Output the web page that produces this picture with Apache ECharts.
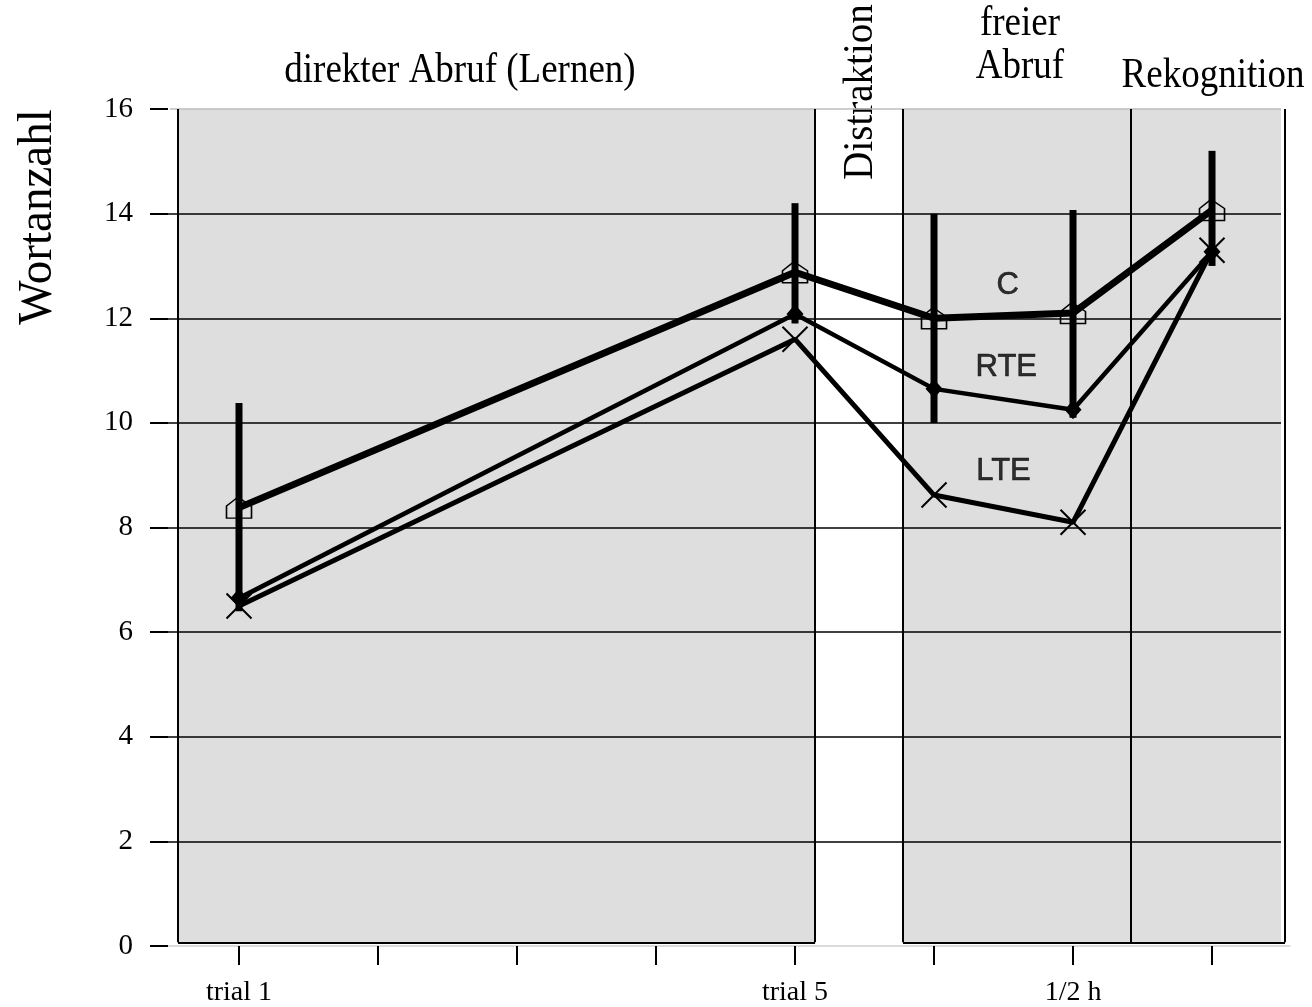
<!DOCTYPE html>
<html><head><meta charset="utf-8">
<script src="https://cdn.jsdelivr.net/npm/echarts@6/dist/echarts.min.js"></script>
<style>html,body{margin:0;padding:0;background:#fff}#c{width:1312px;height:1007px}</style>
</head><body><div id="c"></div>
<script>
// ---- data ----
const xPositions = [1, 5, 6, 7, 8];
const seriesC   = [8.38, 12.88, 12.0, 12.1, 14.07];
const seriesRTE = [6.65, 12.08, 10.65, 10.25, 13.27];
const seriesLTE = [6.5, 11.6, 8.62, 8.1, 13.3];
const errLow  = [6.4, 11.9, 10.0, 10.1, 13.0];
const errHigh = [10.38, 14.2, 14.0, 14.07, 15.2];
const tickPositions = [1, 2, 3, 4, 5, 6, 7, 8];
const xLabelPositions = [1, 5, 7];
const xLabelTexts = ['trial 1', 'trial 5', '1/2 h'];
const yGridValues = [2, 4, 6, 8, 10, 12, 14];
const groupNames = ['C', 'RTE', 'LTE'];
const groupNameX = [6.53, 6.52, 6.5];
const groupNameY = [12.63, 11.06, 9.08];

// ---- layout (data-coordinates of panel decorations) ----
const X_MIN = 0.4892, X_MAX = 8.561;
const GRID_END = 8.496;
const Y_BOTTOM = 0.07, Y_TOP = 16;
const panels = [[0.561, 5.144], [5.777, 7.417], [7.417, 8.496]];
const borderXs = [0.561, 5.144, 5.777, 7.417, 8.525];

const serif = "'Liberation Serif','Times New Roman',serif";
const chart = echarts.init(document.getElementById('c'), null, {renderer: 'canvas'});

const pair = (xs, ys) => xs.map((x, i) => [x, ys[i]]);

const borderLines = borderXs.map(x => [{coord: [x, Y_BOTTOM]}, {coord: [x, Y_TOP]}]);
borderLines.push([{coord: [panels[0][0], Y_BOTTOM]}, {coord: [panels[0][1], Y_BOTTOM]}]);
borderLines.push([{coord: [panels[1][0], Y_BOTTOM]}, {coord: [borderXs[4], Y_BOTTOM]}]);

const gridLines = yGridValues.map(v => [{coord: [X_MIN, v]}, {coord: [GRID_END, v]}]);

const T = (text, x, y, size, rot, sy) => ({
  type: 'text', x: x, y: y, rotation: rot || 0, scaleX: 1, scaleY: sy || 1,
  style: {text: text, x: 0, y: 0, font: `${size}px ${serif}`, fill: '#000', textAlign: 'center', textVerticalAlign: 'middle'}
});

const option = {
  animation: false,
  backgroundColor: '#fff',
  grid: {left: 168, right: 22, top: 109, bottom: 60},
  xAxis: {
    type: 'value', min: X_MIN, max: X_MAX,
    axisLine: {show: true, lineStyle: {color: '#cfcfcf', width: 1.5}},
    axisTick: {show: true, customValues: tickPositions, length: 19, lineStyle: {color: '#000', width: 2}},
    axisLabel: {
      customValues: xLabelPositions, margin: 33,
      fontFamily: serif, fontSize: 28, color: '#000',
      formatter: v => { const i = xLabelPositions.indexOf(Math.round(v)); return i >= 0 ? xLabelTexts[i] : ''; }
    },
    splitLine: {show: false}
  },
  yAxis: {
    type: 'value', min: 0, max: 16, interval: 2,
    axisLine: {show: false},
    axisTick: {show: true, length: 18, lineStyle: {color: '#000', width: 2}},
    axisLabel: {fontFamily: serif, fontSize: 29, color: '#000', margin: 35},
    splitLine: {show: false}
  },
  graphic: [
    T('direkter Abruf (Lernen)', 460, 71, 37, 0, 1.12),
    T('Distraktion', 861, 92, 39, Math.PI / 2, 1.1),
    T('freier', 1020, 24, 37, 0, 1.12),
    T('Abruf', 1020, 67, 37, 0, 1.12),
    T('Rekognition', 1213, 76, 37, 0, 1.12),
    T('Wortanzahl', 38, 217, 47, Math.PI / 2, 1.05)
  ],
  series: [
    {
      type: 'line', data: [], z: 1, silent: true,
      markArea: {silent: true, itemStyle: {color: '#dedede'},
        data: panels.map(p => [{xAxis: p[0], yAxis: Y_BOTTOM}, {xAxis: p[1], yAxis: Y_TOP}])}
    },
    {
      type: 'line', data: [], z: 2, silent: true,
      markLine: {silent: true, symbol: ['none', 'none'], label: {show: false},
        lineStyle: {color: '#000', width: 1.5, type: 'solid'},
        data: gridLines.concat([[{coord: [0.503, Y_TOP], lineStyle: {color: '#bdbdbd', width: 1.5}}, {coord: [GRID_END, Y_TOP]}]])}
    },
    {
      type: 'line', data: [], z: 3, silent: true,
      markLine: {silent: true, symbol: ['none', 'none'], label: {show: false},
        lineStyle: {color: '#000', width: 2, type: 'solid'}, data: borderLines}
    },
    {
      type: 'custom', z: 4, silent: true,
      data: xPositions.map((x, i) => [x, errLow[i], errHigh[i]]),
      encode: {x: 0, y: [1, 2]},
      renderItem: (params, api) => {
        const a = api.coord([api.value(0), api.value(1)]);
        const b = api.coord([api.value(0), api.value(2)]);
        return {type: 'line', shape: {x1: a[0], y1: a[1], x2: b[0], y2: b[1]}, style: {stroke: '#000', lineWidth: 7, lineCap: 'butt'}};
      }
    },
    {
      name: 'LTE', type: 'line', z: 5, data: pair(xPositions, seriesLTE),
      symbol: 'path://M0,0L10,10M10,0L0,10', symbolSize: 25,
      lineStyle: {color: '#000', width: 5},
      itemStyle: {color: 'rgba(0,0,0,0)', borderColor: '#000', borderWidth: 2}
    },
    {
      name: 'RTE', type: 'line', z: 6, data: pair(xPositions, seriesRTE),
      symbol: 'diamond', symbolSize: [17, 19],
      lineStyle: {color: '#000', width: 4.5},
      itemStyle: {color: '#000'}
    },
    {
      name: 'C', type: 'line', z: 7, data: pair(xPositions, seriesC),
      symbol: 'path://M0,21L0,9L11,0L24,9L24,21Z', symbolSize: [25, 21],
      lineStyle: {color: '#000', width: 7},
      itemStyle: {color: 'rgba(0,0,0,0)', borderColor: '#000', borderWidth: 1.5}
    },
    {
      type: 'scatter', z: 8, silent: true,
      data: groupNames.map((n, i) => ({name: n, value: [groupNameX[i], groupNameY[i]]})),
      symbolSize: 1, itemStyle: {color: 'rgba(0,0,0,0)'},
      label: {show: true, position: 'inside', formatter: p => p.name,
        fontFamily: "'Liberation Sans',Arial,sans-serif", fontSize: 31, color: '#000',
        textBorderColor: '#000', textBorderWidth: 0.6}
    }
  ]
};
chart.setOption(option);
</script>
</body></html>
